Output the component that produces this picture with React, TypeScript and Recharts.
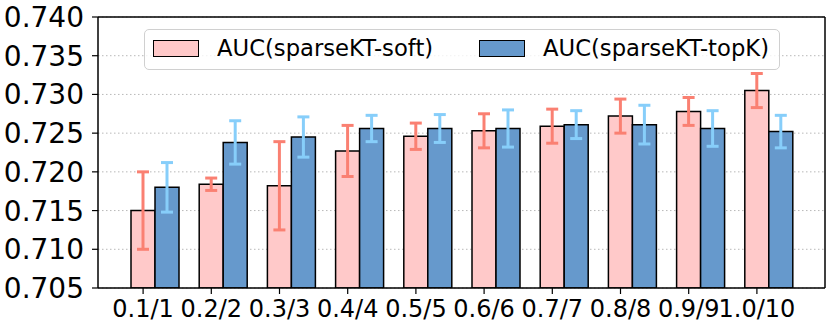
import { Bar, BarChart, CartesianGrid, ErrorBar, XAxis, YAxis } from 'recharts'

const categories = ['0.1/1', '0.2/2', '0.3/3', '0.4/4', '0.5/5', '0.6/6', '0.7/7', '0.8/8', '0.9/9', '1.0/10']
const softAuc = [0.715, 0.7184, 0.7182, 0.7227, 0.7246, 0.7253, 0.7259, 0.7272, 0.7278, 0.7305]
const softErr = [0.005, 0.0008, 0.0057, 0.0033, 0.0017, 0.0022, 0.0022, 0.0022, 0.0018, 0.0022]
const topKAuc = [0.718, 0.7238, 0.7245, 0.7256, 0.7256, 0.7256, 0.7261, 0.7261, 0.7256, 0.7252]
const topKErr = [0.0032, 0.0028, 0.0026, 0.0017, 0.0018, 0.0024, 0.0018, 0.0025, 0.0023, 0.0021]
const yTicks = [0.705, 0.71, 0.715, 0.72, 0.725, 0.73, 0.735, 0.74]

const seriesNames = ['AUC(sparseKT-soft)', 'AUC(sparseKT-topK)']
const barColors = ['#ffc9c9', '#6699cc']
const errColors = ['#fa8072', '#87cefa']

const data = categories.map((name, i) => ({
  name,
  soft: softAuc[i],
  softErr: softErr[i],
  topK: topKAuc[i],
  topKErr: topKErr[i],
}))

const font = 'DejaVu Sans, sans-serif'

function LegendBox() {
  // sits over the plot like matplotlib's legend (upper center)
  return (
    <div
      style={{
        position: 'absolute',
        left: 144,
        top: 29,
        width: 634,
        height: 39,
        border: '1px solid #d0d0d0',
        borderRadius: 5,
        background: 'rgba(255,255,255,0.8)',
        fontFamily: font,
        fontSize: 22.7,
        color: '#000',
      }}
    >
      {seriesNames.map((n, i) => (
        <div key={n} style={{ position: 'absolute', left: i === 0 ? 8 : 334, top: 9, display: 'flex', alignItems: 'center' }}>
          <span
            style={{
              display: 'inline-block',
              width: 44,
              height: 15,
              background: barColors[i],
              border: '1px solid #000',
            }}
          />
          <span style={{ marginLeft: 18, lineHeight: '18px' }}>{n}</span>
        </div>
      ))}
    </div>
  )
}

export default function App() {
  return (
    <div style={{ position: 'absolute', left: 0, top: 0, width: 831, height: 324, background: '#fff' }}>
      <BarChart
        width={831}
        height={324}
        data={data}
        margin={{ top: 16, right: 5, bottom: 0, left: 0 }}
        barGap={0}
        barSize={24}
      >
        <CartesianGrid vertical={false} stroke='#b8b8b8' strokeDasharray='1.5 2.5' />
        {/* hidden axis the bars sit on, shifted so the pink bar centers on the tick */}
        <XAxis xAxisId='bars' dataKey='name' hide height={0} padding={{ left: 23, right: 22 }} />
        <XAxis
          xAxisId='labels'
          dataKey='name'
          height={36}
          padding={{ left: 11, right: 34 }}
          stroke='#000'
          axisLine={{ stroke: '#000', strokeWidth: 1.5 }}
          tickLine={{ stroke: '#000', strokeWidth: 1.2 }}
          tickSize={6}
          tickMargin={6}
          interval={0}
          tick={{ fontSize: 24, fill: '#000', fontFamily: font }}
        />
        <XAxis
          xAxisId='top'
          dataKey='name'
          orientation='top'
          height={1}
          tick={false}
          tickLine={false}
          axisLine={{ stroke: '#000', strokeWidth: 1.5 }}
        />
        <YAxis
          domain={[0.705, 0.74]}
          ticks={yTicks}
          allowDataOverflow
          width={98}
          axisLine={{ stroke: '#000', strokeWidth: 1.5 }}
          tickLine={{ stroke: '#000', strokeWidth: 1.2 }}
          tickSize={6}
          tickMargin={8}
          tickFormatter={(v) => Number(v).toFixed(3)}
          tick={{ fontSize: 28, fill: '#000', fontFamily: font }}
        />
        <YAxis
          yAxisId='right'
          orientation='right'
          domain={[0.705, 0.74]}
          width={1}
          tick={false}
          tickLine={false}
          axisLine={{ stroke: '#000', strokeWidth: 1.5 }}
        />
        <Bar
          xAxisId='bars'
          dataKey='soft'
          name={seriesNames[0]}
          fill={barColors[0]}
          stroke='#000'
          strokeWidth={1.5}
          isAnimationActive={false}
        >
          <ErrorBar dataKey='softErr' width={6} strokeWidth={3} stroke={errColors[0]} isAnimationActive={false} />
        </Bar>
        <Bar
          xAxisId='bars'
          dataKey='topK'
          name={seriesNames[1]}
          fill={barColors[1]}
          stroke='#000'
          strokeWidth={1.5}
          isAnimationActive={false}
        >
          <ErrorBar dataKey='topKErr' width={6} strokeWidth={3} stroke={errColors[1]} isAnimationActive={false} />
        </Bar>
      </BarChart>
      <LegendBox />
    </div>
  )
}
